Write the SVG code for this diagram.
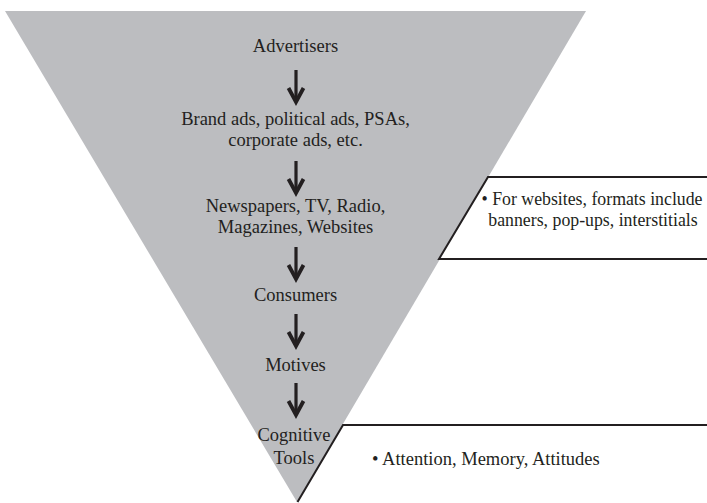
<svg xmlns="http://www.w3.org/2000/svg" width="707" height="503" viewBox="0 0 707 503">
<style>
.t{font-family:"Liberation Serif","Times New Roman",serif;font-size:18.5px;fill:#231f20;text-anchor:middle}
.s{font-family:"Liberation Serif","Times New Roman",serif;font-size:18.5px;fill:#231f20;text-anchor:start}
.sb{font-family:"Liberation Serif","Times New Roman",serif;font-size:17.8px;fill:#231f20;text-anchor:middle}
.b{fill:#ffffff;stroke:none}
.ln{fill:none;stroke:#231f20;stroke-width:2}
.shaft{stroke:#231f20;stroke-width:3.2;fill:none}
.head{stroke:#231f20;stroke-width:3.8;fill:none;stroke-linejoin:miter;stroke-miterlimit:10}
</style>
<defs>
<g id="arr">
<line class="shaft" x1="0" y1="0" x2="0" y2="31"/>
<polyline class="head" points="-7.5,-16 0,-2 7.5,-16" transform="translate(0,34)"/>
</g>
</defs>
<g id="funnel">
<polygon points="5,11 586,11 297,502" fill="#bcbdc0"/>
</g>
<g id="box-websites">
<polygon class="b" points="488,177 707,177 707,259 439,259"/>
<polyline class="ln" points="707,177 488,177 439,259 707,259"/>
<text class="sb" x="592" y="205">• For websites, formats include</text>
<text class="sb" x="593" y="226">banners, pop-ups, interstitials</text>
</g>
<g id="box-cognitive">
<polygon class="b" points="343,425 707,425 707,503 297,503"/>
<polyline class="ln" points="707,425 343,425 297.5,502"/>
<text class="s" x="372" y="465">• Attention, Memory, Attitudes</text>
</g>
<g id="n-advertisers"><text class="t" x="295.5" y="52">Advertisers</text></g>
<g id="n-ads"><text class="t" x="295.5" y="125">Brand ads, political ads, PSAs,</text><text class="t" x="295.5" y="146">corporate ads, etc.</text></g>
<g id="n-media"><text class="t" x="295.5" y="212">Newspapers, TV, Radio,</text><text class="t" x="295.5" y="233">Magazines, Websites</text></g>
<g id="n-consumers"><text class="t" x="295.5" y="301">Consumers</text></g>
<g id="n-motives"><text class="t" x="295.5" y="371">Motives</text></g>
<g id="n-cognitive"><text class="t" x="294" y="441">Cognitive</text><text class="t" x="294" y="464">Tools</text></g>
<g id="connectors">
<use href="#arr" x="296" y="70"/>
<use href="#arr" x="296" y="161"/>
<use href="#arr" x="296" y="247"/>
<use href="#arr" x="296" y="314"/>
<use href="#arr" x="296" y="383"/>
</g>
</svg>
